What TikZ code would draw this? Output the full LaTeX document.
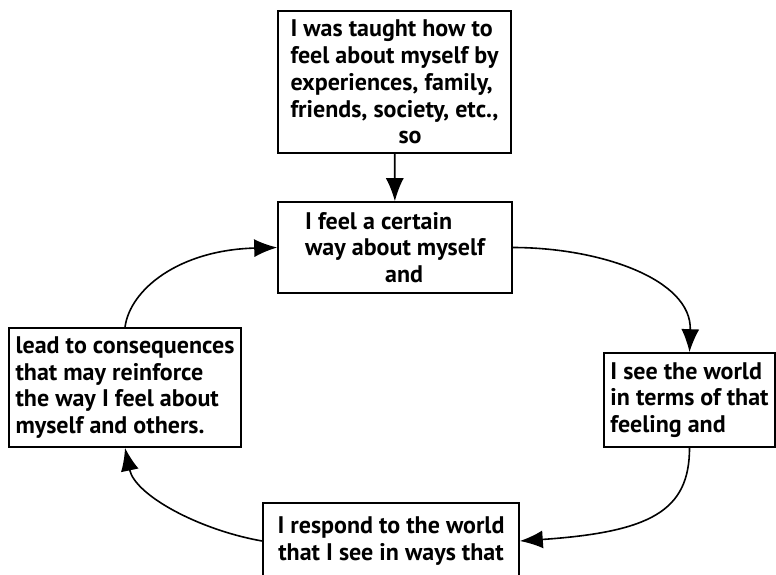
\documentclass[tikz,border=0pt]{standalone}
\usepackage{fontspec}
\setmainfont{PT Sans}
\usetikzlibrary{arrows.meta}
\begin{document}
\begin{tikzpicture}[x=1pt,y=-1pt,
  box/.style={draw, line width=1.6pt, inner sep=0pt,
    font=\bfseries\fontsize{24}{26.8}\selectfont, align=left},
  link/.style={line width=1.6pt,
    -{Latex[length=23pt,width=18pt]}}]
\useasboundingbox (0,0) rectangle (776,574);
\fill[white] (0,0) rectangle (776,574);
\clip (0,0) rectangle (776,574);

% the five statements of the cycle
\node[box, minimum width=233pt, minimum height=142pt] (origin) at (394.5,82)
  {I was taught how to\\feel about myself by\\experiences, family,\\friends, society, etc.,\\\hspace*{108pt}so};
\node[box, minimum width=234pt, minimum height=91pt] (self) at (395,247.5)
  {I feel a certain\\way about myself\\\hspace*{80pt}and};
\node[box, minimum width=171pt, minimum height=94pt] (world) at (689.5,400)
  {I see the world\\in terms of that\\feeling and};
\node[box, minimum width=256pt, minimum height=76pt, align=center] (respond) at (391,541)
  {I respond to the world\\that I see in ways that};
\node[box, minimum width=232pt, minimum height=119pt] (consequence) at (125,387.5)
  {lead to consequences\\that may reinforce\\the way I feel about\\myself and others.};

% connectors
\draw[link] (origin) -- (self);
\draw[link] (self.east) .. controls +(87,0) and +(2.5,-73) .. (world.north);
\draw[link] (world.south) .. controls +(0,63) and +(131,-9) .. (respond.east);
\draw[link] (respond.west) .. controls +(-63,-11) and +(10,47.5) .. (consequence.south);
\draw[link] (consequence.north) .. controls +(5,-38) and +(-98,2.5) .. (self.west);
\end{tikzpicture}
\end{document}
